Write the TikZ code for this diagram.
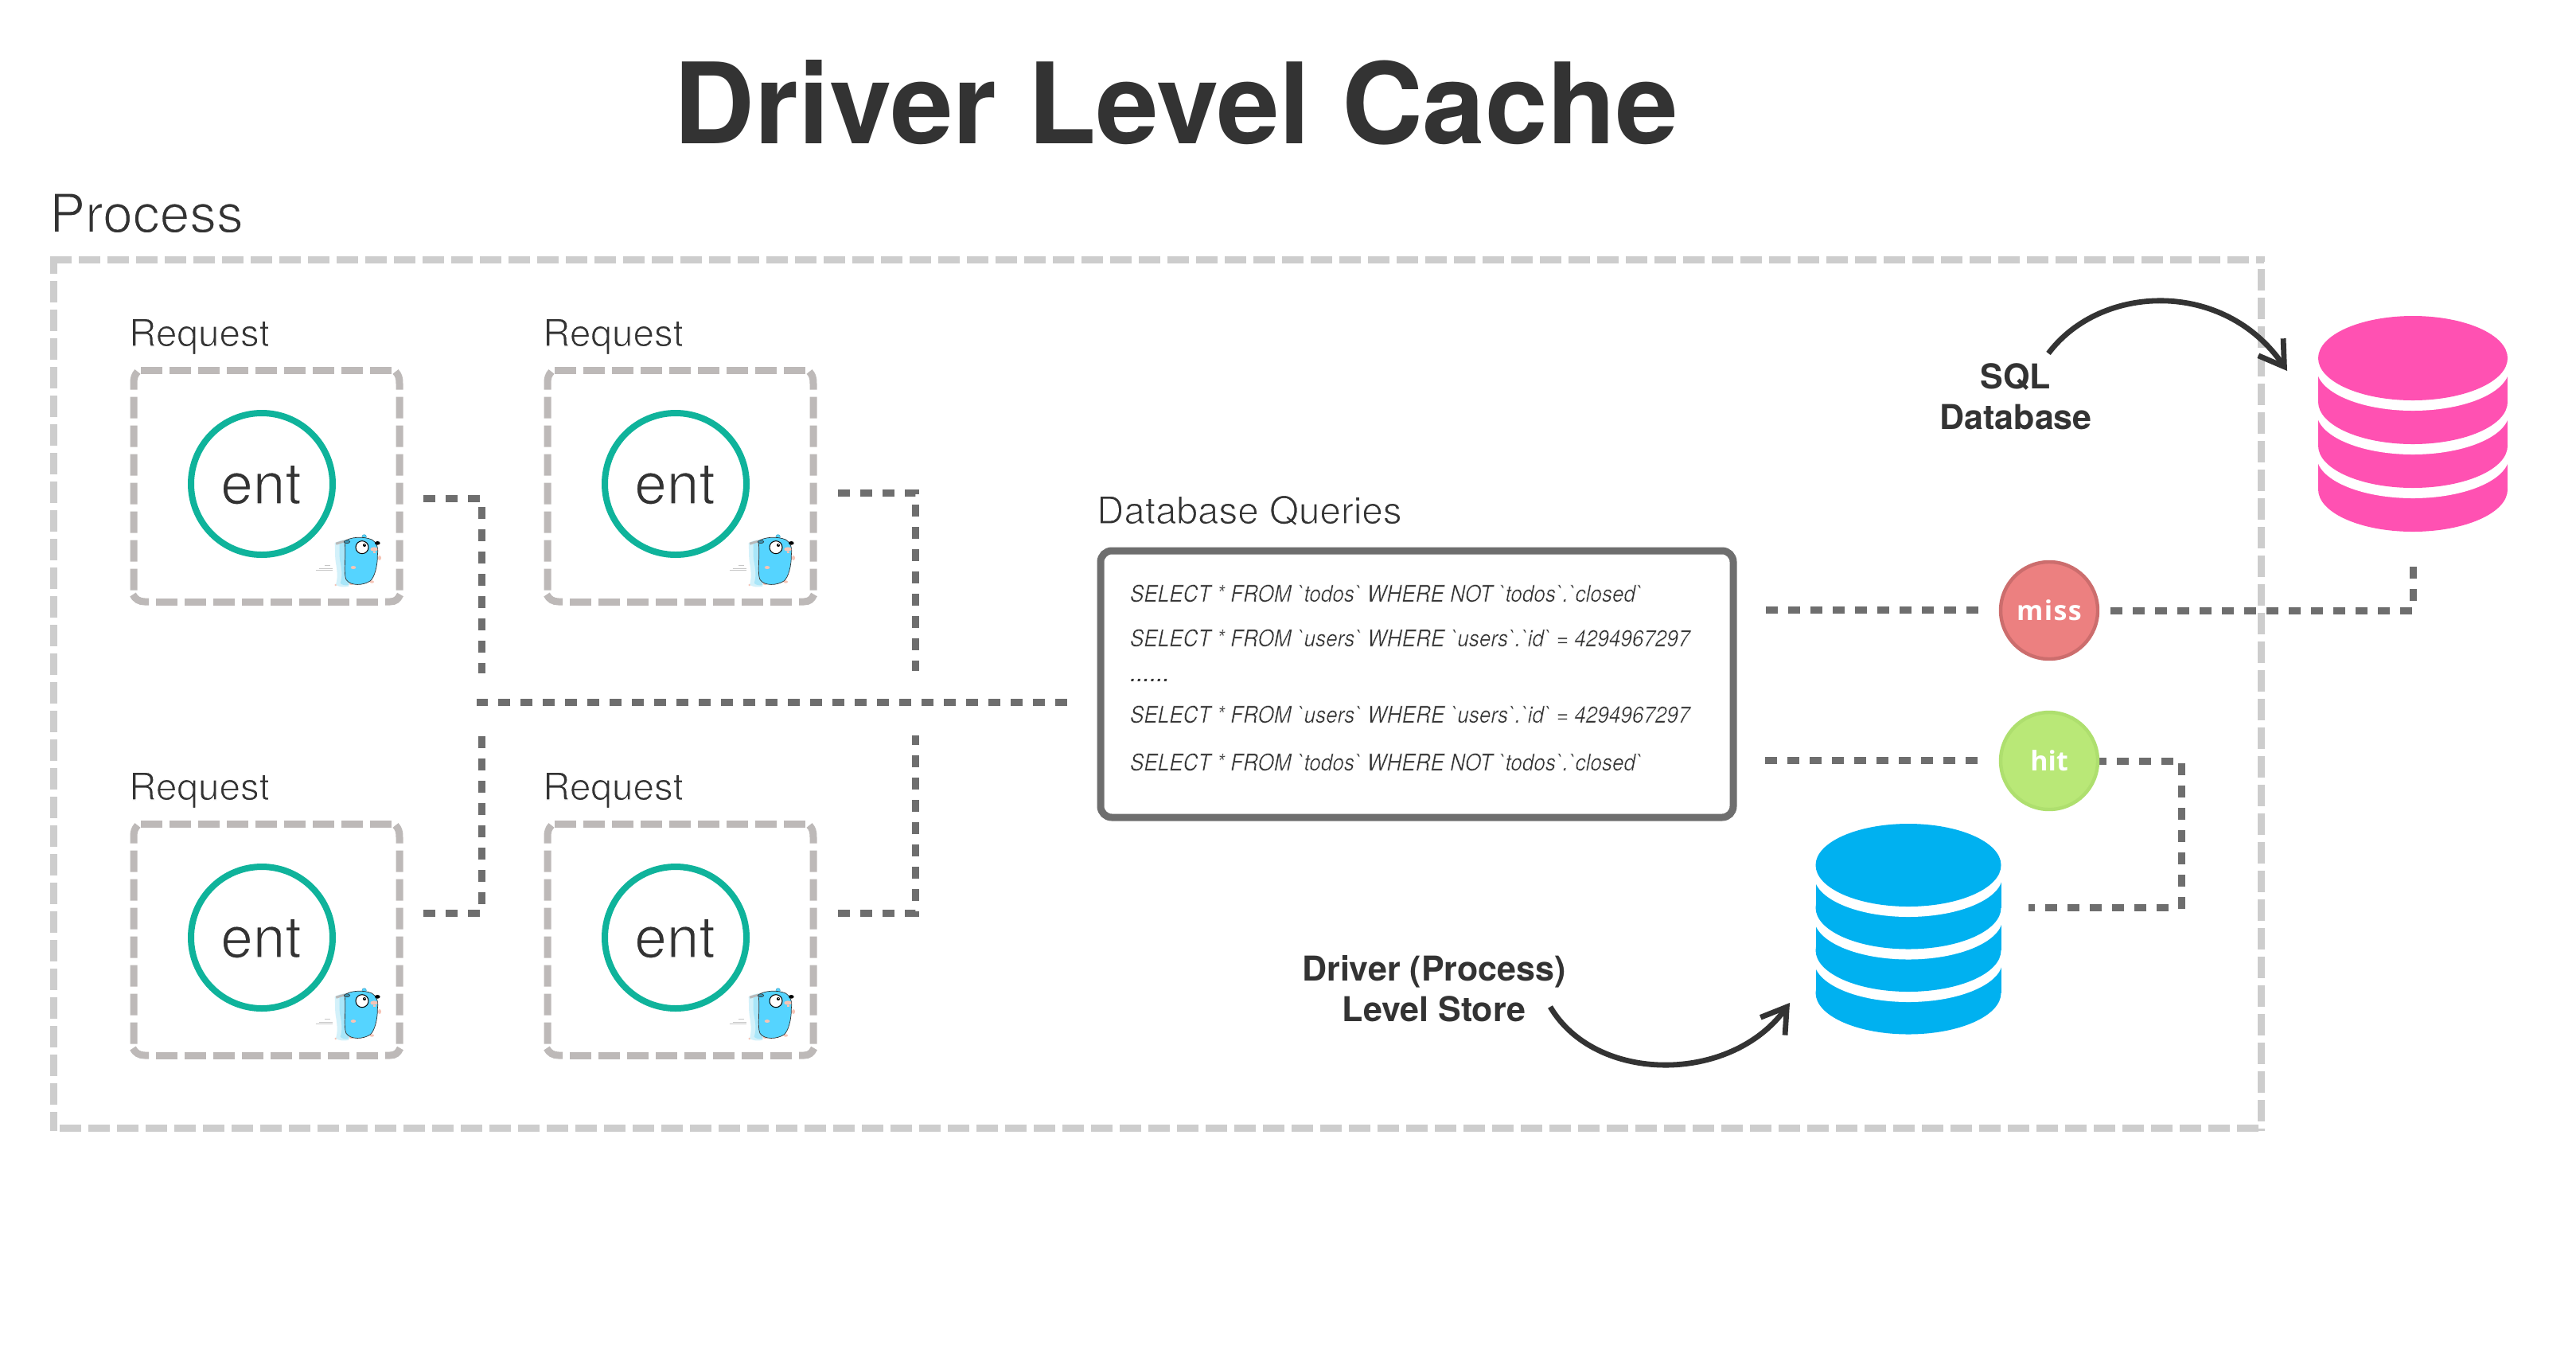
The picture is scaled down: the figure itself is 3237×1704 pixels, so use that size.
\documentclass[tikz,border=0pt]{standalone}
\usepackage{fontspec}
\usetikzlibrary{arrows.meta}
\setmainfont{TeX Gyre Heros}
\newfontfamily\helv{TeX Gyre Heros}
\newfontfamily\sqlf{TeX Gyre Heros}[FakeStretch=0.9]
\newfontfamily\badge{Open Sans}[BoldFont=* Bold]
\newcommand{\lighttext}[2]{\special{pdf:code 2 Tr 1 1 1 RG #1 w}#2\special{pdf:code 0 Tr}}
\definecolor{ink}{HTML}{333333}
\definecolor{procgrey}{HTML}{CDCDCD}
\definecolor{reqgrey}{HTML}{BDB9B8}
\definecolor{linkgrey}{HTML}{6E6E6E}
\definecolor{teal}{HTML}{0FB39B}
\definecolor{pinkdb}{HTML}{FF51B2}
\definecolor{bluedb}{HTML}{00B1F0}
\definecolor{missfill}{HTML}{EC8080}
\definecolor{missline}{HTML}{CC6D6D}
\definecolor{hitfill}{HTML}{B9E877}
\definecolor{hitline}{HTML}{AEDF6E}
\definecolor{goblue}{HTML}{55D4FF}
\definecolor{ghostA}{HTML}{D3F1FA}
\definecolor{ghostB}{HTML}{A9E6F9}
\definecolor{gopink}{HTML}{F6C4B6}
\tikzset{
  txt/.style={inner sep=0pt,outer sep=0pt,text=ink,anchor=base},
  procline/.style={draw=procgrey,line width=4.5pt,dash pattern=on 13.5pt off 4.5pt},
  reqline/.style={draw=reqgrey,line width=4.5pt,dash pattern=on 13.5pt off 4.5pt},
  reqcorner/.style={draw=reqgrey,line width=4.5pt},
  link/.style={draw=linkgrey,line width=4.5pt,dash pattern=on 7.5pt off 6.5pt,line join=miter},
  entring/.style={circle,draw=teal,line width=4pt,minimum size=89pt,inner sep=0pt},
  callout/.style={draw=ink,line width=3.4pt,-{Straight Barb[length=15pt,width=19pt,line width=3.4pt]}},
  querybox/.style={draw=linkgrey,line width=4.5pt,fill=white,rounded corners=7pt,outer sep=0pt},
  status/.style={circle,minimum size=61pt,inner sep=0pt,line width=2.2pt},
  sqltxt/.style={inner sep=0pt,outer sep=0pt,text=ink,anchor=base west,font=\sqlf\itshape\fontsize{14.5}{15}\selectfont},
  boldtxt/.style={txt,font=\helv\bfseries\fontsize{21.5}{22}\selectfont},
  badgetxt/.style={inner sep=0pt,anchor=base,text=white,font=\badge\bfseries\fontsize{17}{17}\selectfont},
}
% a stacked database: colour, centre x, half width, top of first disc, disc half height, layer pitch
\newcommand{\dbstack}[6]{%
  \foreach \k in {3,2,1}{%
    \pgfmathsetmacro{\cy}{#4+#5+\k*#6}
    \pgfmathsetmacro{\wy}{\cy-#6+13-0}
    \fill[#1] (#2-#3,\wy) rectangle (#2+#3,\cy);
    \fill[#1] (#2,\cy) ellipse [x radius=#3,y radius=#5];
    \fill[white] (#2,\wy) ellipse [x radius=#3+2,y radius=#5];
  }
  \fill[#1] (#2,#4+#5) ellipse [x radius=#3,y radius=#5];
}
\newcommand{\gophermark}[2]{%
  \begin{scope}[shift={(380+#1,640+#2)},x=0.16667pt,y=-0.16667pt]
    \draw[gray!45,line width=0.25pt] (50,230)--(115,230) (62,222)--(115,222) (85,210)--(105,210);
    \fill[ghostA] (122,128) .. controls (135,118) and (150,115) .. (175,112) -- (175,290) .. controls (160,295) and (135,292) .. (126,284) .. controls (135,255) and (130,225) .. (125,195) .. controls (122,170) and (124,150) .. (122,128) -- cycle;
    \fill[ghostB] (140,128) .. controls (148,122) and (158,118) .. (175,115) -- (175,285) .. controls (160,288) and (150,285) .. (143,278) .. controls (152,250) and (148,225) .. (142,195) .. controls (138,170) and (140,150) .. (140,128) -- cycle;
    \fill[gray!55] (125,125) -- (158,116) -- (158,124) -- (128,134) -- cycle;
    \fill[gopink] (125,285) circle (4) (185,280) ellipse [x radius=9,y radius=5] (262,273) ellipse [x radius=8,y radius=5];
    \draw[goblue!80!black,fill=goblue,line width=0.3pt] (233,103) circle (8);
    \draw[black!80,fill=goblue,line width=0.35pt] (158,122) .. controls (175,104) and (230,100) .. (262,114) .. controls (280,124) and (287,145) .. (283,172) .. controls (284,210) and (272,258) .. (255,270) .. controls (230,287) and (182,290) .. (165,265) .. controls (154,240) and (165,180) .. (160,130) -- cycle;
    \draw[black!80,fill=goblue!70!black,line width=0.3pt] (168,122) ellipse [x radius=11,y radius=6];
    \draw[black,fill=white,line width=0.5pt] (225,143) circle (24);
    \fill[black] (234,135) circle (6);
    \fill[white] (236,133) circle (2);
    \fill[gopink] (270,150) ellipse [x radius=14,y radius=8];
    \fill[gopink] (268,158) rectangle (276,166);
    \fill[black] (283,127) ellipse [x radius=10,y radius=7];
    \fill[gopink] (192,219) ellipse [x radius=10,y radius=6];
    \fill[gopink] (291,183) ellipse [x radius=6,y radius=9];
  \end{scope}%
}
\begin{document}
\begin{tikzpicture}[x=0.5pt,y=-0.5pt]
\useasboundingbox (0,0) rectangle (3237,1704);
\fill[white] (0,0) rectangle (3237,1704);

\node[txt,font=\helv\bfseries\fontsize{70.5}{71}\selectfont] (title) at (1478,180) {Driver Level Cache};
\node[txt,anchor=base west,font=\helv\fontsize{33.8}{34}\selectfont] (proclabel) at (62,292) {\lighttext{0.8}{Process}};

% process frame
\draw[procline] (63,326) -- (2845,326);
\draw[procline,dash phase=10pt] (2841,322) -- (2841,1421);
\draw[procline,dash phase=2.5pt] (67,322) -- (67,1421);
\draw[procline] (75,1417) -- (2845,1417);

% request boxes
\foreach \n/\dx/\dy in {a/0/0,b/520/0,c/0/570,d/520/570}{
  \begin{scope}[shift={(\dx,\dy)}]
    \node[txt,anchor=base west,font=\helv\fontsize{23.8}{24}\selectfont] (req\n) at (162,435) {\lighttext{0.55}{Request}};
    \draw[reqline] (177,465) -- (493,465);
    \draw[reqline] (196,756) -- (475,756);
    \draw[reqline,dash phase=1.5pt] (173,467) .. controls (169,471) and (168,475) .. (168,482) -- (168,742);
    \draw[reqline,dash phase=1.5pt] (497,467) .. controls (501,471) and (502,475) .. (502,482) -- (502,742);
    \draw[reqcorner] (167,747) .. controls (170,753) and (175,756) .. (182,756) -- (187,756);
    \draw[reqcorner] (484,756) -- (490,756) .. controls (497,756) and (500,753) .. (503,747);
    \node[entring] (ring\n) at (329,608) {};
    \node[txt,font=\helv\fontsize{36.5}{37}\selectfont] (ent\n) at (328,633) {\lighttext{0.7}{ent}};
  \end{scope}
  \gophermark{\dx}{\dy}
}

% connectors on the left
\coordinate (l1a) at (532,626); \coordinate (l1b) at (605,626); \coordinate (l1c) at (605,846);
\coordinate (l2a) at (1053,619); \coordinate (l2b) at (1150,619); \coordinate (l2c) at (1150,843);
\coordinate (l3a) at (532,1147); \coordinate (l3b) at (605,1147); \coordinate (l3c) at (605,925);
\coordinate (l4a) at (1053,1147); \coordinate (l4b) at (1150,1147); \coordinate (l4c) at (1150,924);
\coordinate (busr) at (1341,882); \coordinate (busl) at (599,882);
\draw[link] (l1a) -- (l1b) -- (l1c);
\draw[link] (l2a) -- (l2b) -- (l2c);
\draw[link] (l3a) -- (l3b) -- (l3c);
\draw[link] (l4a) -- (l4b) -- (l4c);
\draw[link] (busr) -- (busl);

% queries
\node[txt,anchor=base west,font=\helv\fontsize{23.8}{24}\selectfont] (dbq) at (1378,658) {\lighttext{0.55}{Database Queries}};
\node[querybox,anchor=north west,minimum width=397.5pt,minimum height=167.5pt,inner sep=0pt] (queries) at (1383,692) {};
\node[sqltxt] (q1) at (1420,756) {\lighttext{0.2}{SELECT * FROM `todos` WHERE NOT `todos`.`closed`}};
\node[sqltxt] (q2) at (1420,812) {\lighttext{0.2}{SELECT * FROM `users` WHERE `users`.`id` = 4294967297}};
\node[sqltxt,font=\helv\itshape\fontsize{15}{15}\selectfont] (q3) at (1420,856) {......};
\node[sqltxt] (q4) at (1420,908) {\lighttext{0.2}{SELECT * FROM `users` WHERE `users`.`id` = 4294967297}};
\node[sqltxt] (q5) at (1420,968) {\lighttext{0.2}{SELECT * FROM `todos` WHERE NOT `todos`.`closed`}};

% cache connectors
\coordinate (ml) at (2219,766); \coordinate (mr) at (2488,766);
\coordinate (pa) at (2652,767); \coordinate (pb) at (3032,767); \coordinate (pc) at (3032,711);
\coordinate (hl) at (2218,955); \coordinate (hr) at (2488,955);
\coordinate (ha) at (2632,956); \coordinate (hb) at (2741,956); \coordinate (hc) at (2741,1143);
\coordinate (sa) at (2725,1140); \coordinate (sb) at (2549,1140);
\draw[link] (ml) -- (mr);
\draw[link] (pa) -- (pb) -- (pc);
\draw[link] (hl) -- (hr);
\draw[link] (ha) -- (hb) -- (hc);
\draw[link] (sa) -- (sb);

\node[status,fill=missfill,draw=missline] (miss) at (2575,767) {};
\node[status,fill=hitfill,draw=hitline] (hit) at (2575,956) {};
\node[badgetxt] (misst) at (2575,779) {\addfontfeature{LetterSpace=4}miss};
\node[badgetxt] (hitt) at (2575,968) {hit};

% databases
\dbstack{pinkdb}{3032}{119}{397}{53}{55}
\dbstack{bluedb}{2398}{116.5}{1035}{52}{53.5}

% labels with arrows
\node[boldtxt] (sql1) at (2533,488) {SQL};
\node[boldtxt] (sql2) at (2533,539) {Database};
\node[boldtxt] (st1) at (1802,1232) {Driver (Process)};
\node[boldtxt] (st2) at (1802,1283) {Level Store};
\coordinate (a1) at (2574,444); \coordinate (a2) at (2874,466);
\coordinate (b1) at (1948,1265); \coordinate (b2) at (2249,1260);
\draw[callout] (a1) .. controls (2640,356) and (2795,351) .. (a2);
\draw[callout] (b1) .. controls (2005,1362) and (2175,1362) .. (b2);
\end{tikzpicture}
\end{document}
